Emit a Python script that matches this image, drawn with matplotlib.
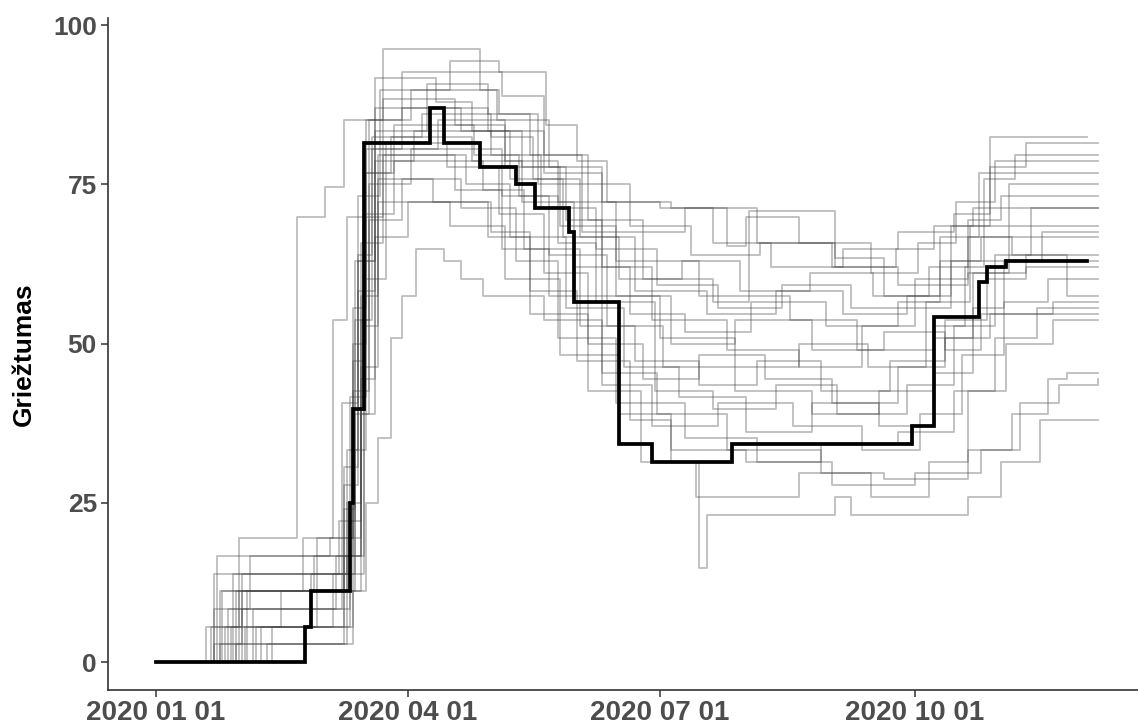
import matplotlib
matplotlib.use("Agg")
import matplotlib.pyplot as plt
import matplotlib.dates as mdates
import numpy as np
import pandas as pd

plt.rcParams['font.family'] = ['Liberation Sans', 'DejaVu Sans']

# ---- data: step breakpoints (date in 2020, stringency value) ----
lithuania = [("01-01", 0), ("02-24", 5.56), ("02-26", 11.11), ("03-11", 25.0), ("03-12", 39.81),
             ("03-16", 81.48), ("04-09", 87.04), ("04-14", 81.48), ("04-27", 77.78), ("05-10", 75.0),
             ("05-17", 71.3), ("05-29", 67.59), ("05-31", 56.48), ("06-16", 34.26), ("06-28", 31.48),
             ("07-27", 34.26), ("09-30", 37.04), ("10-08", 54.17), ("10-24", 59.72), ("10-27", 62.04),
             ("11-03", 62.96), ("12-02", 62.96)]

g01 = [("01-01", 0), ("01-19", 5.56), ("01-31", 19.44), ("02-21", 69.91), ("03-02", 74.54), ("03-09", 85.19),
       ("03-23", 88.43), ("04-18", 84.26), ("05-06", 78.7), ("05-25", 72.22), ("06-15", 67.59), ("07-10", 71.3),
       ("08-05", 65.74), ("09-01", 62.04), ("09-25", 59.26), ("10-20", 61.11), ("11-10", 62.04), ("12-06", 62.04)]
g02 = [("01-01", 0), ("01-31", 11.11), ("02-23", 19.44), ("03-05", 53.7), ("03-10", 69.91), ("03-23", 96.3),
       ("04-27", 89.81), ("05-04", 86.11), ("05-18", 75.0), ("06-03", 67.59), ("06-15", 62.96), ("07-15", 57.41),
       ("08-17", 53.7), ("09-10", 49.07), ("10-08", 52.78), ("10-19", 62.04), ("10-26", 75.93), ("11-06", 79.63),
       ("12-06", 79.63)]
g03 = [("01-01", 0), ("01-22", 2.78), ("02-01", 13.89), ("03-10", 25.0), ("03-15", 53.7), ("03-18", 85.19),
       ("04-02", 89.81), ("04-16", 94.44), ("05-04", 92.59), ("05-21", 84.26), ("06-01", 78.7), ("06-12", 72.22),
       ("07-01", 71.3), ("07-20", 65.74), ("08-10", 62.04), ("09-05", 64.81), ("09-25", 67.59), ("10-15", 70.37),
       ("10-28", 82.41), ("12-02", 82.41)]
g04 = [("01-01", 0), ("01-26", 5.56), ("02-15", 11.11), ("03-09", 30.56), ("03-14", 62.96), ("03-20", 91.67),
       ("04-11", 87.96), ("04-24", 83.33), ("05-12", 77.78), ("05-28", 69.44), ("06-10", 57.41), ("07-01", 50.93),
       ("07-28", 46.3), ("08-20", 50.0), ("09-14", 46.3), ("10-05", 56.48), ("10-21", 68.52), ("11-04", 75.0),
       ("12-06", 75.0)]
g05 = [("01-01", 0), ("01-22", 8.33), ("02-04", 16.67), ("03-11", 41.67), ("03-17", 76.85), ("03-27", 84.26),
       ("04-25", 79.63), ("05-11", 73.15), ("05-25", 65.74), ("06-08", 56.48), ("06-29", 42.59), ("07-20", 39.81),
       ("08-12", 43.52), ("09-03", 38.89), ("09-28", 43.52), ("10-15", 52.78), ("10-30", 63.89), ("11-12", 71.3),
       ("12-06", 71.3)]
g06 = [("01-01", 0), ("02-10", 2.78), ("03-12", 11.11), ("03-17", 25.0), ("03-21", 35.19), ("03-26", 50.93),
       ("03-30", 57.41), ("04-04", 64.81), ("04-14", 62.96), ("04-20", 60.19), ("04-28", 57.41), ("05-20", 53.7),
       ("06-10", 45.37), ("06-30", 38.89), ("07-25", 33.33), ("08-28", 29.63), ("09-20", 28.7), ("10-20", 33.33),
       ("11-05", 38.89), ("11-18", 44.44), ("11-25", 45.37), ("12-06", 45.37)]
g07 = [("01-01", 0), ("01-24", 2.78), ("02-05", 8.33), ("03-11", 19.44), ("03-15", 46.3), ("03-21", 75.93),
       ("04-10", 72.22), ("05-01", 67.59), ("05-15", 58.33), ("06-01", 47.22), ("06-20", 37.96), ("07-05", 31.48),
       ("07-15", 14.81), ("07-18", 23.15), ("09-02", 25.93), ("09-08", 23.15), ("10-20", 25.93), ("11-01", 31.48),
       ("11-15", 37.96), ("12-06", 37.96)]
g08 = [("01-01", 0), ("02-08", 5.56), ("03-05", 13.89), ("03-13", 38.89), ("03-18", 69.44), ("03-30", 75.93),
       ("04-20", 71.3), ("05-10", 62.96), ("05-25", 50.93), ("06-15", 40.74), ("07-10", 35.19), ("08-05", 31.48),
       ("09-01", 27.78), ("10-01", 29.63), ("10-25", 33.33), ("11-08", 40.74), ("11-22", 43.52), ("12-06", 44.44)]
g09 = [("01-01", 0), ("01-30", 11.11), ("03-10", 16.67), ("03-16", 60.19), ("03-24", 81.48), ("04-15", 77.78),
       ("05-04", 70.37), ("05-20", 61.11), ("06-05", 50.0), ("06-25", 44.44), ("07-15", 48.15), ("08-08", 44.44),
       ("09-01", 40.74), ("09-25", 46.3), ("10-12", 50.93), ("10-28", 54.63), ("12-06", 54.63)]
g10 = [("01-01", 0), ("01-25", 11.11), ("02-26", 13.89), ("03-12", 50.0), ("03-17", 80.56), ("03-30", 87.04),
       ("04-30", 83.33), ("05-20", 76.85), ("06-10", 72.22), ("07-05", 71.3), ("07-25", 65.28), ("08-01", 69.91),
       ("08-20", 65.74), ("09-15", 61.11), ("10-02", 65.74), ("10-16", 72.22), ("10-30", 78.7), ("12-06", 78.7)]
g11 = [("01-01", 0), ("02-02", 5.56), ("03-09", 27.78), ("03-14", 58.33), ("03-20", 83.33), ("04-08", 90.74),
       ("04-30", 86.11), ("05-15", 79.63), ("06-05", 69.44), ("06-25", 60.19), ("07-20", 56.48), ("08-02", 70.83),
       ("09-02", 63.43), ("09-20", 57.41), ("10-10", 66.67), ("10-24", 76.85), ("12-06", 76.85)]
g12 = [("01-01", 0), ("01-28", 5.56), ("02-28", 19.44), ("03-08", 40.74), ("03-14", 73.15), ("03-22", 89.81),
       ("05-03", 85.19), ("05-22", 77.78), ("06-10", 62.04), ("06-28", 53.7), ("07-25", 49.07), ("08-20", 46.3),
       ("09-12", 52.78), ("10-01", 55.56), ("10-14", 68.52), ("10-28", 77.78), ("11-10", 81.48), ("12-06", 81.48)]
g13 = [("01-01", 0), ("01-22", 13.89), ("03-11", 22.22), ("03-15", 65.74), ("03-23", 79.63), ("04-22", 75.0),
       ("05-08", 66.67), ("05-28", 55.56), ("06-18", 46.3), ("07-08", 41.67), ("08-01", 36.11), ("08-25", 40.74),
       ("09-18", 37.04), ("10-08", 45.37), ("10-22", 55.56), ("11-02", 62.96), ("11-16", 67.59), ("12-06", 67.59)]
g14 = [("01-01", 0), ("01-27", 8.33), ("03-06", 16.67), ("03-15", 44.44), ("03-20", 78.7), ("04-03", 83.33),
       ("05-01", 79.63), ("05-19", 71.3), ("06-08", 64.81), ("06-30", 59.26), ("07-22", 55.56), ("08-14", 59.26),
       ("09-08", 55.56), ("10-01", 60.19), ("10-20", 66.67), ("11-05", 63.89), ("11-25", 57.41), ("12-06", 57.41)]
g15 = [("01-01", 0), ("02-05", 2.78), ("03-10", 11.11), ("03-13", 33.33), ("03-17", 70.37), ("03-27", 78.7),
       ("04-28", 74.07), ("05-13", 64.81), ("06-02", 52.78), ("06-22", 47.22), ("07-15", 43.52), ("08-05", 47.22),
       ("08-28", 42.59), ("09-22", 47.22), ("10-12", 53.7), ("10-27", 60.19), ("11-10", 63.89), ("12-06", 63.89)]
g16 = [("01-01", 0), ("01-21", 5.56), ("02-01", 11.11), ("03-10", 33.33), ("03-14", 63.89), ("03-19", 80.56),
       ("04-12", 85.19), ("05-06", 77.78), ("05-26", 68.52), ("06-15", 57.41), ("07-05", 50.0), ("07-28", 53.7),
       ("08-25", 49.07), ("09-20", 51.85), ("10-12", 49.07), ("10-25", 54.63), ("11-20", 56.48), ("12-06", 56.48)]
g17 = [("01-01", 0), ("01-24", 11.11), ("02-27", 16.67), ("03-12", 47.22), ("03-16", 76.85), ("03-26", 82.41),
       ("04-24", 78.7), ("05-12", 72.22), ("05-31", 62.04), ("06-20", 54.63), ("07-10", 51.85), ("08-03", 56.48),
       ("08-30", 52.78), ("09-25", 56.48), ("10-10", 62.96), ("10-25", 66.67), ("12-06", 66.67)]
g18 = [("01-01", 0), ("02-01", 8.33), ("03-08", 19.44), ("03-12", 42.59), ("03-18", 75.0), ("04-02", 80.56),
       ("05-05", 73.15), ("05-22", 63.89), ("06-12", 52.78), ("07-02", 46.3), ("07-28", 42.59), ("08-25", 38.89),
       ("09-18", 42.59), ("10-08", 50.93), ("10-22", 61.11), ("11-04", 68.52), ("12-06", 68.52)]
g19 = [("01-01", 0), ("02-12", 5.56), ("03-12", 13.89), ("03-16", 52.78), ("03-21", 72.22), ("04-16", 68.52),
       ("05-06", 60.19), ("05-26", 48.15), ("06-16", 38.89), ("07-05", 33.33), ("08-01", 31.48), ("08-28", 34.26),
       ("09-25", 36.11), ("10-15", 42.59), ("10-30", 50.93), ("11-14", 55.56), ("12-06", 55.56)]
g20 = [("01-01", 0), ("01-23", 16.67), ("03-04", 19.44), ("03-12", 55.56), ("03-17", 85.19), ("03-30", 92.59),
       ("05-05", 88.89), ("05-20", 79.63), ("06-03", 75.0), ("06-20", 68.52), ("07-12", 63.89), ("08-06", 65.74),
       ("09-02", 62.04), ("09-24", 64.81), ("10-08", 68.52), ("10-22", 71.3), ("12-06", 71.3)]
g21 = [("01-01", 0), ("01-30", 2.78), ("03-09", 16.67), ("03-15", 57.41), ("03-21", 79.63), ("04-18", 74.07),
       ("05-05", 64.81), ("05-22", 57.41), ("06-10", 43.52), ("06-28", 37.04), ("07-22", 40.74), ("08-18", 37.04),
       ("09-12", 33.33), ("10-03", 38.89), ("10-18", 48.15), ("11-02", 56.48), ("11-18", 60.19), ("12-06", 60.19)]
g22 = [("01-01", 0), ("02-06", 5.56), ("03-11", 11.11), ("03-15", 38.89), ("03-20", 66.67), ("04-01", 72.22),
       ("04-30", 66.67), ("05-15", 54.63), ("06-05", 42.59), ("06-24", 31.48), ("07-14", 25.93), ("08-20", 29.63),
       ("09-15", 25.93), ("10-06", 31.48), ("10-20", 42.59), ("11-03", 50.0), ("11-20", 53.7), ("12-06", 53.7)]
g23 = [("01-01", 0), ("02-03", 11.11), ("03-09", 24.07), ("03-13", 53.7), ("03-19", 82.41), ("04-06", 86.11),
       ("05-01", 82.41), ("05-16", 75.93), ("06-02", 66.67), ("06-22", 58.33), ("07-18", 54.63), ("08-12", 58.33),
       ("09-05", 54.63), ("09-28", 57.41), ("10-14", 62.96), ("12-06", 62.96)]
g24 = [("01-01", 0), ("01-29", 13.89), ("03-07", 22.22), ("03-13", 62.96), ("03-20", 87.04), ("04-20", 83.33),
       ("05-08", 75.93), ("05-27", 66.67), ("06-16", 60.19), ("07-09", 62.96), ("07-30", 58.33), ("08-24", 61.11),
       ("09-16", 57.41), ("10-06", 62.04), ("10-20", 69.44), ("11-01", 73.15), ("12-06", 73.15)]

others = [g01, g02, g03, g04, g05, g06, g07, g08, g09, g10, g11, g12,
          g13, g14, g15, g16, g17, g18, g19, g20, g21, g22, g23, g24]

x_ticks = ["2020-01-01", "2020-04-01", "2020-07-01", "2020-10-01"]
y_ticks = [0, 25, 50, 75, 100]
y_label = "Griežtumas"


def to_series(pts):
    d = pd.to_datetime(["2020-" + p[0] for p in pts])
    v = np.array([p[1] for p in pts], dtype=float)
    return d, v


fig = plt.figure(figsize=(11.38, 7.28), dpi=100)
ax = fig.add_axes([0.0949, 0.052, 0.905, 0.923])

for s in others:
    d, v = to_series(s)
    ax.plot(d, v, drawstyle="steps-post", color="#444444", alpha=0.35, lw=1.3)

d, v = to_series(lithuania)
ax.plot(d, v, drawstyle="steps-post", color="black", lw=2.7, solid_joinstyle="miter")

t0 = pd.Timestamp("2020-01-01")
ax.set_xlim(t0 - pd.Timedelta(days=17.3), t0 + pd.Timedelta(days=354.5))
ax.set_ylim(-4.4, 101.1)

ax.set_xticks(pd.to_datetime(x_ticks))
ax.xaxis.set_major_formatter(mdates.DateFormatter("%Y %m %d"))
ax.set_yticks(y_ticks)

for side in ["top", "right"]:
    ax.spines[side].set_visible(False)
for side in ["left", "bottom"]:
    ax.spines[side].set_color("#333333")
    ax.spines[side].set_linewidth(1.2)

ax.tick_params(axis="both", colors="#333333", length=5, width=1.1)
for lab in ax.get_xticklabels():
    lab.set_fontsize(20)
    lab.set_fontweight("bold")
    lab.set_color("#4d4d4d")
for lab in ax.get_yticklabels():
    lab.set_fontsize(19)
    lab.set_fontweight("bold")
    lab.set_color("#4d4d4d")
ax.tick_params(axis="x", pad=2)
ax.tick_params(axis="y", pad=3)

ax.set_ylabel(y_label, fontsize=19, fontweight="bold", color="black", labelpad=12)

fig.savefig("out.png", dpi=100)
